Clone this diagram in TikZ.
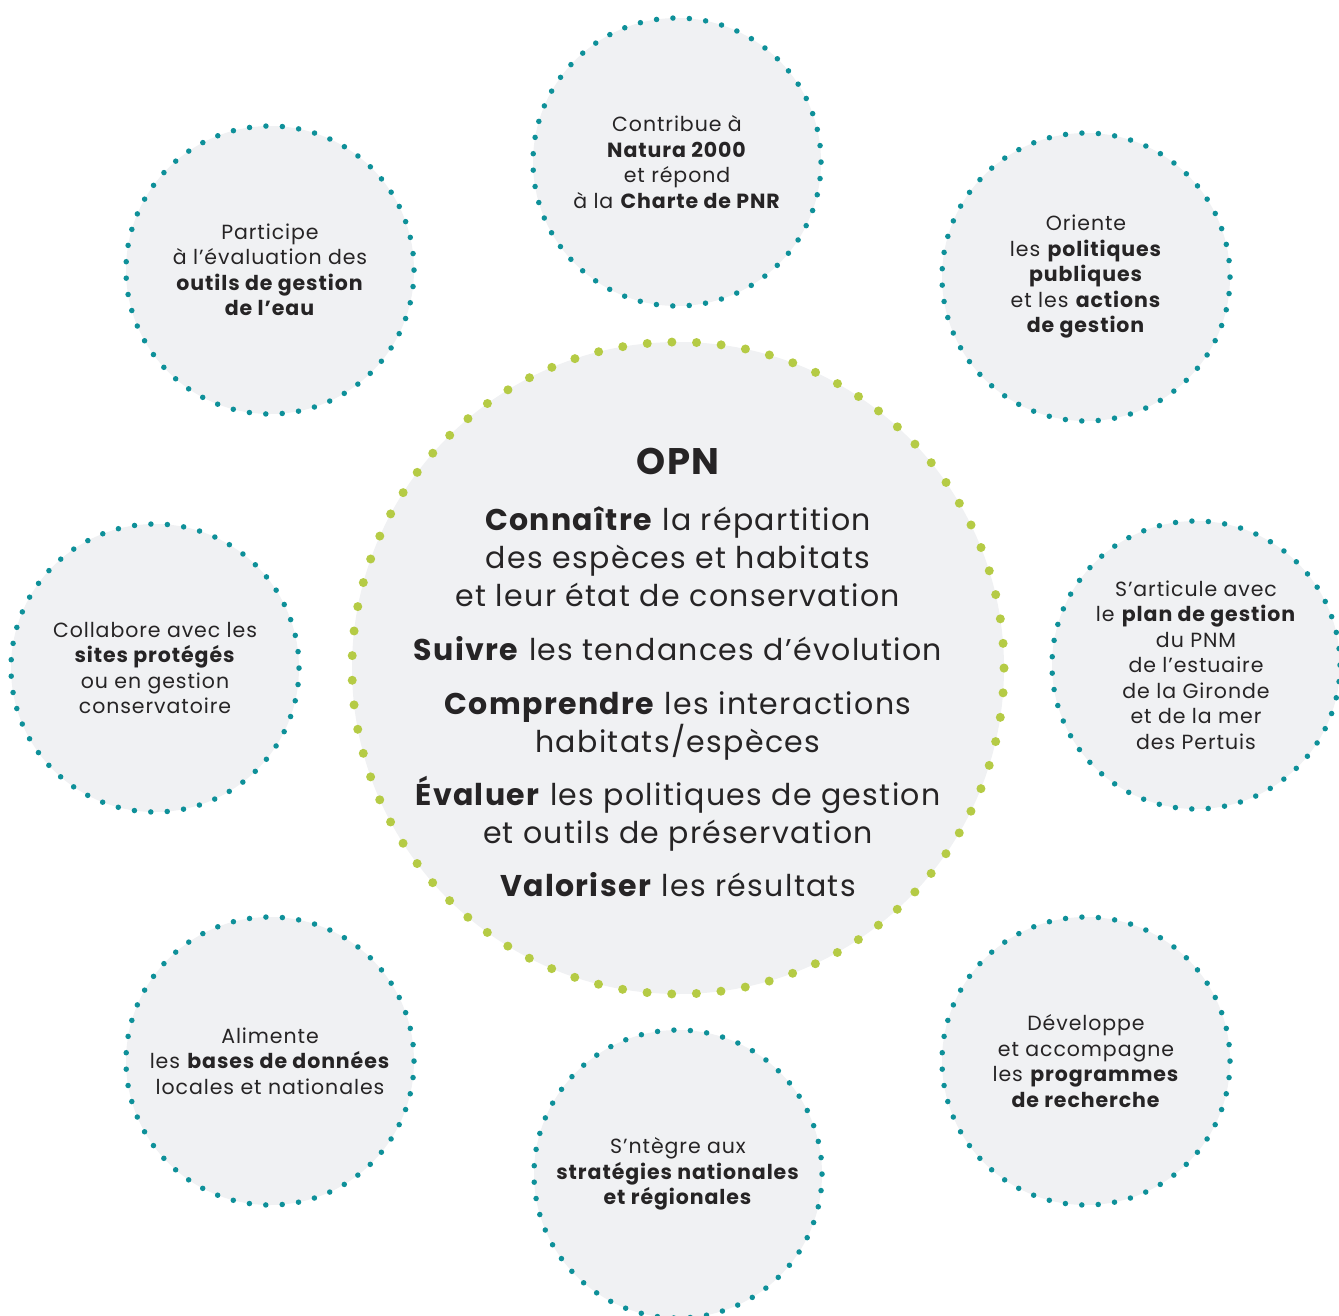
\documentclass[tikz,border=0pt]{standalone}
\usepackage{fontspec}
\setmainfont{Poppins}[LetterSpace=4.5]
\usetikzlibrary{positioning}

\definecolor{opnteal}{HTML}{0E9099}
\definecolor{opngreen}{HTML}{B5CB45}
\definecolor{opnfill}{HTML}{F0F1F3}
\definecolor{opntext}{HTML}{262425}

\tikzset{
  every node/.style={text=opntext, align=center}, % dark text, centred lines
  role/.style={circle, fill=opnfill, draw=opnteal, minimum size=288pt, inner sep=0pt,
    line width=5.5pt, line cap=round, dash pattern=on 0pt off 16.45pt, % 55 dots round the rim
    font=\fontsize{20.5}{25.5}\selectfont},
  core/.style={circle, fill=opnfill, draw=opngreen, minimum size=652pt, inner sep=0pt,
    line width=9pt, line cap=round, dash pattern=on 0pt off 24.68pt}, % 83 bigger dots
  aims/.style={font=\fontsize{30}{38}\selectfont},
  title/.style={font=\fontsize{37}{40}\selectfont\bfseries},
}

\begin{document}
\begin{tikzpicture}[x=1pt, y=-1pt]
    \useasboundingbox (0,0) rectangle (1339,1315);

    % OPN in the middle
    \node[core] (opn) at (678,668) {};
    \node[title] (name) at (678,461) {OPN};
    \node[aims] (goals) at (678,702) {%
      \textbf{Connaître} la répartition\\
      des espèces et habitats\\
      et leur état de conservation\\[16pt]
      \textbf{Suivre} les tendances d’évolution\\[16pt]
      \textbf{Comprendre} les interactions\\
      habitats/espèces\\[15pt]
      \textbf{Évaluer} les politiques de gestion\\
      et outils de préservation\\[15pt]
      \textbf{Valoriser} les résultats};

    % roles around it
    \node[role] (natura) at (677,162)
      {Contribue à\\\textbf{Natura 2000}\\et répond\\à la \textbf{Charte de PNR}};
    \node[role] (eau) at (270,270)
      {Participe\\à l’évaluation des\\\textbf{outils de gestion}\\\textbf{de l’eau}};
    \node[role] (politiques) at (1086,277)
      {Oriente\\les \textbf{politiques}\\\textbf{publiques}\\et les \textbf{actions}\\\textbf{de gestion}};
    \node[role] (sites) at (155,668)
      {Collabore avec les\\\textbf{sites protégés}\\ou en gestion\\conservatoire};
    \node[role] (pnm) at (1196,665)
      {S’articule avec\\le \textbf{plan de gestion}\\du PNM\\de l’estuaire\\de la Gironde\\et de la mer\\des Pertuis};
    \node[role] (bases) at (270,1061)
      {Alimente\\les \textbf{bases de données}\\locales et nationales};
    \node[role] (recherche) at (1086,1061)
      {Développe\\et accompagne\\les \textbf{programmes}\\\textbf{de recherche}};
    \node[role] (strategies) at (678,1174)
      {S’ntègre aux\\\textbf{stratégies nationales}\\\textbf{et régionales}};
\end{tikzpicture}
\end{document}
